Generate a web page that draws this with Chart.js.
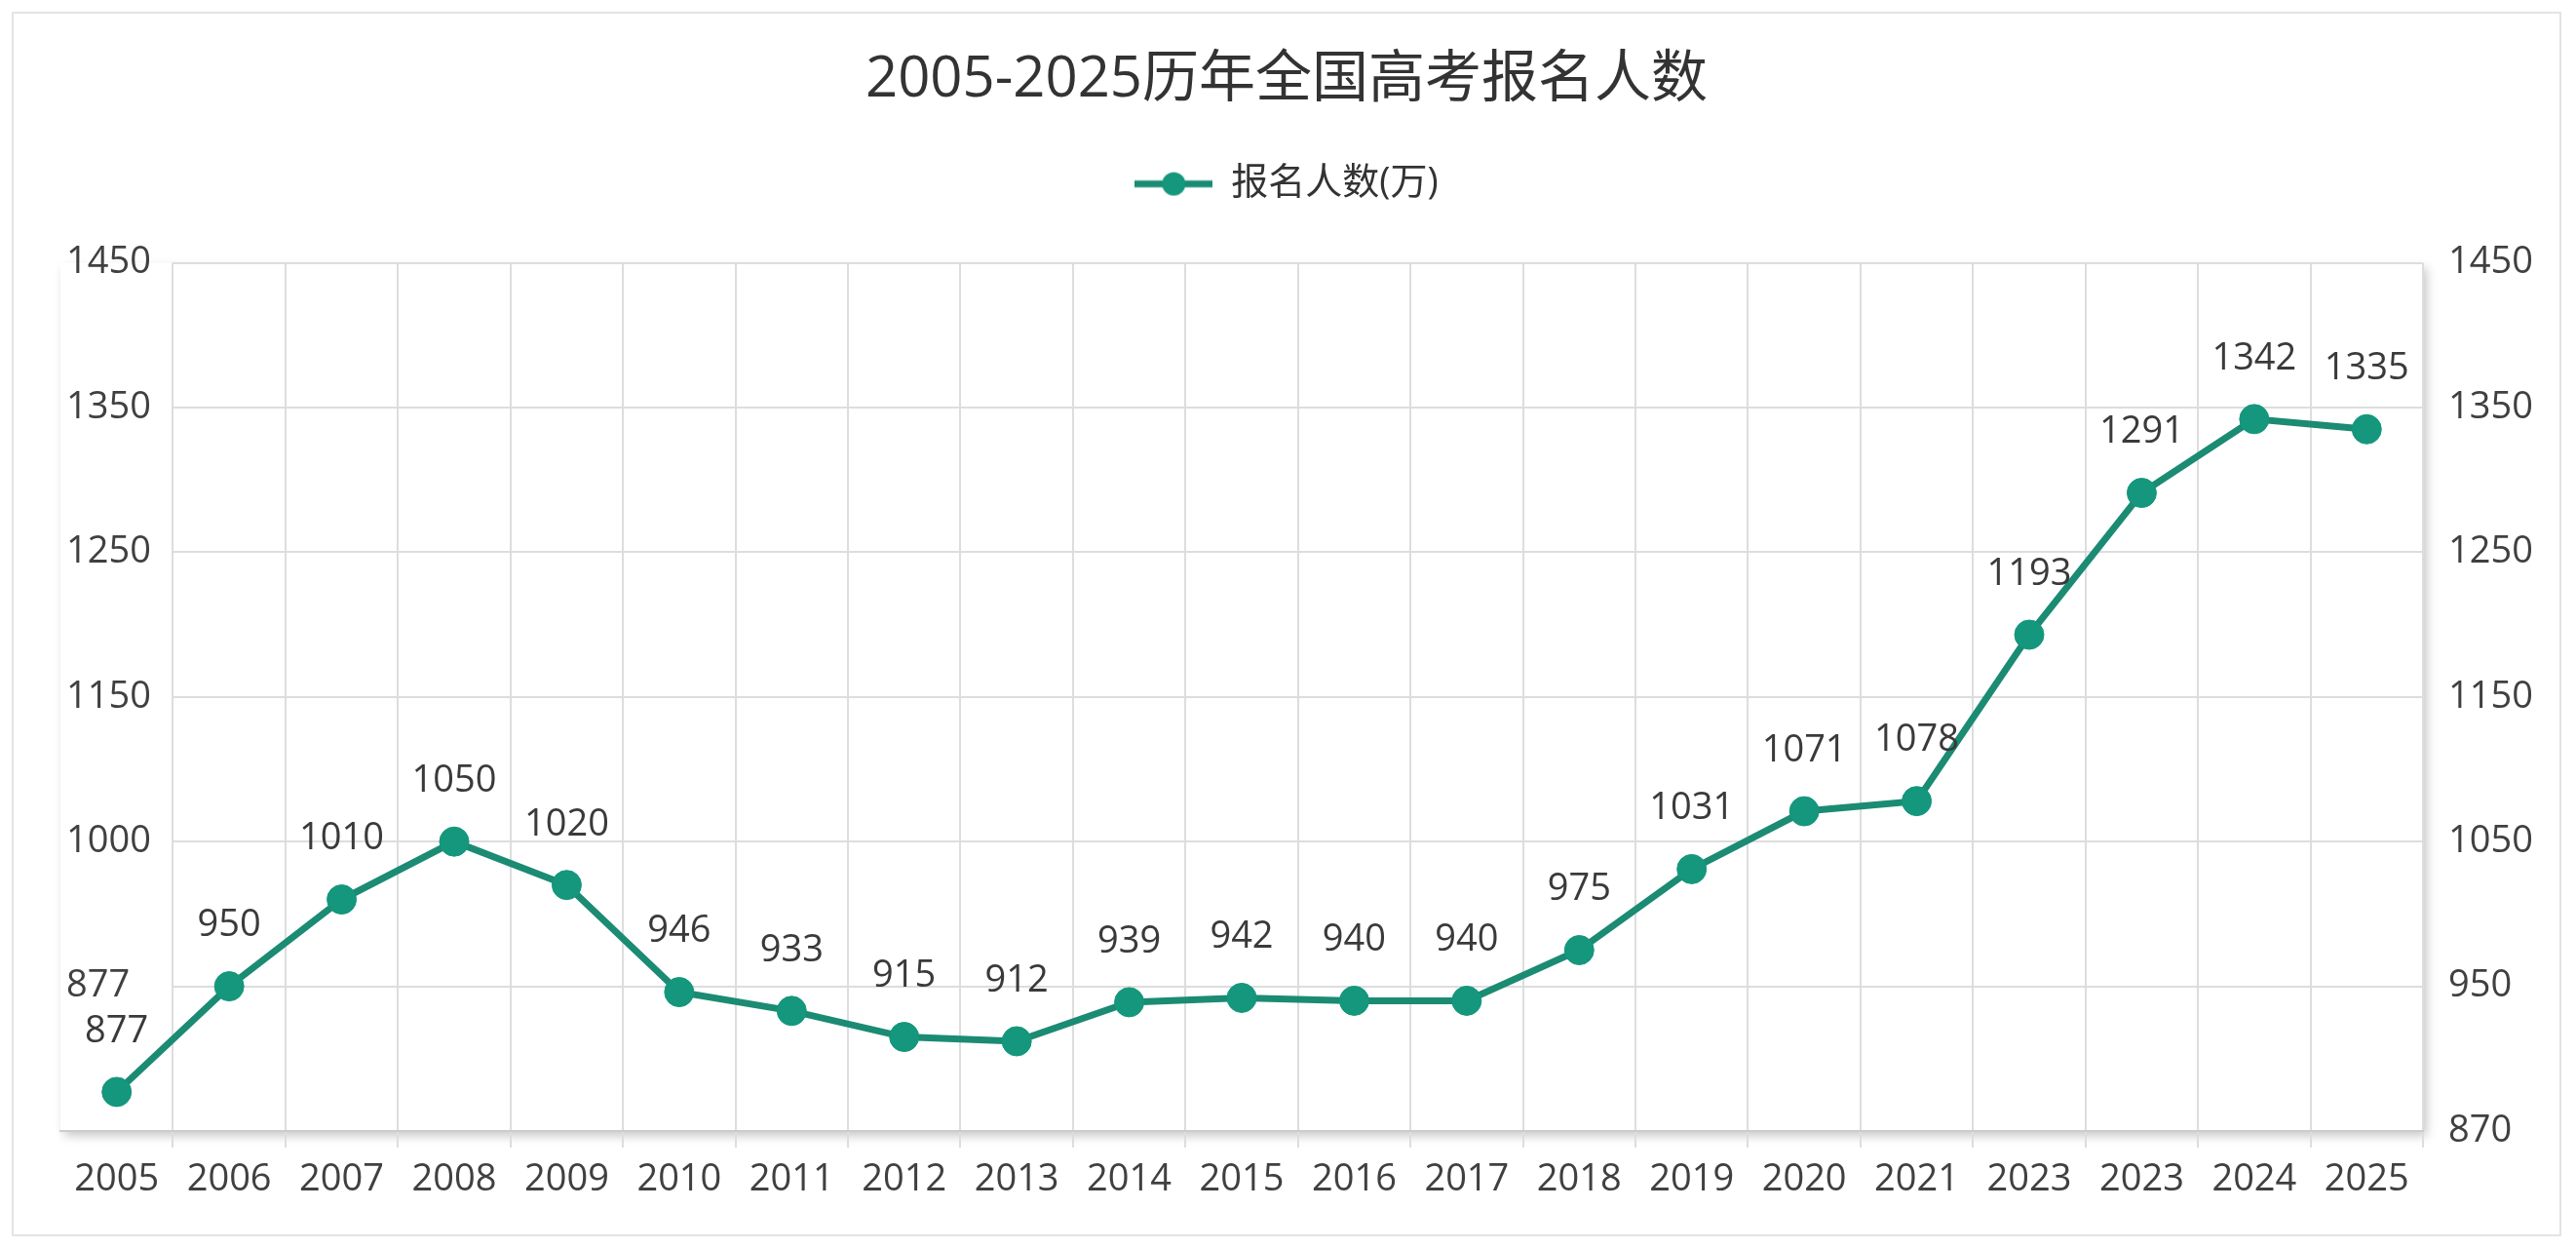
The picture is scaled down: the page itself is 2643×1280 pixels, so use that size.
<!DOCTYPE html>
<html>
<head>
<meta charset="utf-8">
<title>2005-2025历年全国高考报名人数</title>
<script src="https://cdn.jsdelivr.net/npm/chart.js@4.4.1/dist/chart.umd.min.js"></script>
<style>
    html, body { margin: 0; padding: 0; background: #fff; }
    #frame {
        position: absolute;
        left: 12px;
        top: 12px;
        width: 2612px;
        height: 1252px;
        border: 2px solid #e3e3e3;
    }
    canvas { display: block; }
</style>
</head>
<body>
<div id="frame"><canvas id="gaokaoChart"></canvas></div>
<script>
/* =======================
   DATA
======================= */
const years = ["2005", "2006", "2007", "2008", "2009", "2010", "2011", "2012", "2013", "2014", "2015",
    "2016", "2017", "2018", "2019", "2020", "2021", "2023", "2023", "2024", "2025"];
const applicants = [877, 950, 1010, 1050, 1020, 946, 933, 915, 912, 939, 942,
    940, 940, 975, 1031, 1071, 1078, 1193, 1291, 1342, 1335];

// tick labels as printed on the two value axes (bottom to top)
const leftTickLabels = ["", "877", "1000", "1150", "1250", "1350", "1450"];
const rightTickLabels = ["870", "950", "1050", "1150", "1250", "1350", "1450"];
const axisMin = 850;
const axisMax = 1450;
const axisStep = 100;

const seriesName = "报名人数(万)";
const chartTitle = "2005-2025历年全国高考报名人数";

/* =======================
   STYLE
======================= */
const LINE_COLOR = "#1b8b73";
const POINT_COLOR = "#14977c";
const GRID_COLOR = "#dddddd";
const TEXT_COLOR = "#404040";

Chart.defaults.font.family = "'Open Sans', 'Noto Sans CJK SC', sans-serif";

/* legend icon: short line with a dot */
const legendIcon = document.createElement("canvas");
legendIcon.width = 80;
legendIcon.height = 26;
(function () {
    const c = legendIcon.getContext("2d");
    c.strokeStyle = LINE_COLOR;
    c.lineWidth = 7;
    c.beginPath();
    c.moveTo(0, 13);
    c.lineTo(80, 13);
    c.stroke();
    c.fillStyle = POINT_COLOR;
    c.beginPath();
    c.arc(40, 13, 12, 0, Math.PI * 2);
    c.fill();
})();

/* =======================
   PLUGINS
======================= */
// white plot panel with a soft shadow at bottom/right
const plotShadow = {
    id: "plotShadow",
    beforeDraw(chart) {
        const { ctx, chartArea: a } = chart;
        ctx.save();
        ctx.shadowColor = "rgba(0,0,0,0.22)";
        ctx.shadowBlur = 10;
        ctx.shadowOffsetX = 4;
        ctx.shadowOffsetY = 5;
        ctx.fillStyle = "#fff";
        ctx.fillRect(a.left, a.top, a.right - a.left, a.bottom - a.top);
        ctx.restore();
    }
};

// horizontal grid lines start at the first category divider
const rowLines = {
    id: "rowLines",
    beforeDatasetsDraw(chart) {
        const { ctx, chartArea: a, scales } = chart;
        const x = scales.x;
        const y = scales.y;
        const startX = (x.getPixelForTick(0) + x.getPixelForTick(1)) / 2;
        ctx.save();
        ctx.strokeStyle = GRID_COLOR;
        ctx.lineWidth = 2;
        y.ticks.forEach(t => {
            if (t.value <= axisMin) return;
            const py = Math.round(y.getPixelForValue(t.value));
            ctx.beginPath();
            ctx.moveTo(startX, py);
            ctx.lineTo(a.right, py);
            ctx.stroke();
        });
        ctx.restore();
    }
};

// value labels above each point
const pointLabels = {
    id: "pointLabels",
    afterDatasetsDraw(chart) {
        const { ctx } = chart;
        const meta = chart.getDatasetMeta(0);
        ctx.save();
        ctx.font = "38px 'Open Sans', sans-serif";
        ctx.fillStyle = "#3a3a3a";
        ctx.textAlign = "center";
        ctx.textBaseline = "middle";
        meta.data.forEach((pt, i) => {
            ctx.fillText(String(applicants[i]), pt.x, pt.y - 62);
        });
        ctx.restore();
    }
};

// extra space under the legend
const legendGap = {
    id: "legendGap",
    beforeInit(chart) {
        const fit = chart.legend.fit;
        chart.legend.fit = function () {
            fit.bind(chart.legend)();
            this.height += 52;
        };
    }
};

/* =======================
   CHART
======================= */
new Chart(document.getElementById("gaokaoChart"), {
    type: "line",
    data: {
        labels: years,
        datasets: [{
            label: seriesName,
            data: applicants,
            borderColor: LINE_COLOR,
            borderWidth: 7,
            backgroundColor: POINT_COLOR,
            pointBackgroundColor: POINT_COLOR,
            pointBorderColor: POINT_COLOR,
            pointBorderWidth: 1,
            pointRadius: 15,
            tension: 0,
            yAxisID: "y"
        }]
    },
    options: {
        responsive: true,
        maintainAspectRatio: false,
        animation: false,
        layout: { padding: 0 },
        plugins: {
            title: {
                display: true,
                text: chartTitle,
                color: "#333",
                font: { size: 58, weight: "normal" },
                padding: { top: 34, bottom: 42 }
            },
            legend: {
                display: true,
                position: "top",
                labels: {
                    usePointStyle: true,
                    pointStyleWidth: 80,
                    color: "#333",
                    font: { size: 38 },
                    generateLabels(chart) {
                        return Chart.defaults.plugins.legend.labels.generateLabels(chart)
                            .map(l => Object.assign(l, { pointStyle: legendIcon }));
                    }
                }
            },
            tooltip: { enabled: false }
        },
        scales: {
            x: {
                type: "category",
                offset: true,
                grid: {
                    offset: true,
                    color: ctx => (ctx.index === 0 ? "rgba(0,0,0,0)" : GRID_COLOR),
                    lineWidth: 2,
                    tickLength: 17
                },
                border: { display: true, color: "#cccccc", width: 2 },
                ticks: {
                    color: TEXT_COLOR,
                    font: { size: 38 },
                    padding: 10,
                    maxRotation: 0,
                    autoSkip: false
                },
                afterFit: s => { s.height = 106; }
            },
            y: {
                position: "left",
                min: axisMin,
                max: axisMax,
                grid: { display: false },
                border: { display: false },
                ticks: {
                    stepSize: axisStep,
                    mirror: true,
                    padding: 6,
                    color: TEXT_COLOR,
                    font: { size: 38 },
                    callback: (v, i) => leftTickLabels[i]
                },
                afterFit: s => { s.width = 48; }
            },
            y2: {
                position: "right",
                min: axisMin,
                max: axisMax,
                grid: { display: false },
                border: { display: false },
                ticks: {
                    stepSize: axisStep,
                    padding: 18,
                    color: TEXT_COLOR,
                    font: { size: 38 },
                    callback: (v, i) => rightTickLabels[i]
                },
                afterFit: s => { s.width = 140; }
            }
        }
    },
    plugins: [plotShadow, rowLines, pointLabels, legendGap]
});
</script>
</body>
</html>
